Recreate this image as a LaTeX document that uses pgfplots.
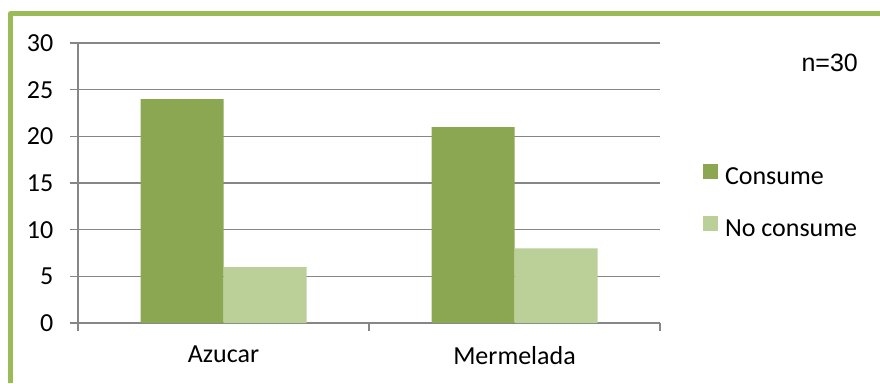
\documentclass[border=0pt]{standalone}
\usepackage{fontspec}
\setmainfont{Carlito}
\newfontfamily\arial{Liberation Sans}
\usepackage{pgfplots}
\pgfplotsset{compat=1.18}
\definecolor{brd}{HTML}{9BBB59}
\definecolor{dk}{HTML}{8BA751}
\definecolor{lt}{HTML}{BBCF99}
\definecolor{gr}{HTML}{868686}
\newcommand\fs{\fontsize{26}{31}\selectfont}
\begin{document}
\begin{tikzpicture}[x=1pt,y=1pt]
\path[use as bounding box] (0,0) rectangle (880,383);
\draw[brd, line width=5pt, line join=round] (10.5,0) -- (10.5,369.5) -- (880,369.5);
\begin{axis}[
  at={(78pt,60pt)}, anchor=south west,
  scale only axis, width=582pt, height=280pt,
  ybar=0pt, bar width=83pt,
  xmin=-0.5, xmax=1.5, ymin=0, ymax=30,
  ytick={0,5,...,30},
  xtick={-0.5,0.5,1.5}, xticklabels={,,},
  extra x ticks={0,1}, extra x tick labels={Azucar,Mermelada},
  extra x tick style={major tick length=0pt},
  axis x line*=bottom, axis y line*=left,
  axis line style={gr, line width=1.3pt, -},
  tick style={gr, line width=1.3pt},
  tick align=outside, major tick length=7.5pt,
  ymajorgrids, grid style={gr, line width=1.3pt},
  /pgf/number format/assume math mode=true,
  tick label style={font=\fs, text=black},
  yticklabel style={anchor=east, inner sep=0pt, xshift=-17pt},
  xticklabel style={anchor=north, inner sep=0pt, yshift=-23pt},
  legend style={draw=none, fill=none, at={(1.0739,0.4286)}, anchor=west,
    font=\fs, inner sep=0pt, outer sep=0pt, row sep=26pt, column sep=7pt,
    nodes={inner sep=0pt, text height=17pt, text depth=5pt}},
  legend cell align=left,
  every axis plot post/.append style={legend image code/.code={\fill[##1] (0pt,0pt) rectangle (15pt,15pt);}},
]
\addplot[fill=dk, draw=none] coordinates {(0,24) (1,21)};
\addplot[fill=lt, draw=none] coordinates {(0,6) (1,8)};
\legend{Consume, No consume}
\end{axis}
\node[anchor=east, inner sep=0pt] at (858,320.5) {\arial\fontsize{25}{30}\selectfont n=30};
\end{tikzpicture}
\end{document}
